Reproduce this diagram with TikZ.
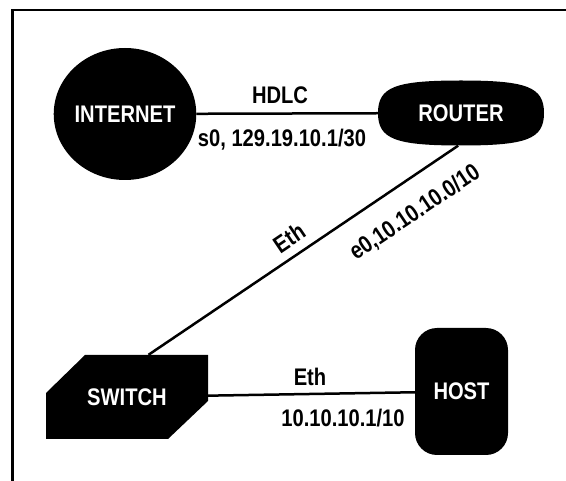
\documentclass[tikz,border=0pt]{standalone}
\usepackage{fontspec}
\newfontfamily\netfont[FakeStretch=0.84]{Liberation Sans}
\usetikzlibrary{shapes.geometric}

\tikzset{
    lbl/.style={font=\netfont\bfseries\fontsize{24}{26}\selectfont, inner sep=0pt},
    devlbl/.style={lbl, text=white},
    link/.style={line width=2.5pt},
}

\begin{document}
\begin{tikzpicture}[x=1pt, y=-1pt]
    \useasboundingbox (0,0) rectangle (566,481);
    % frame
    \draw[line width=2.5pt] (566,10) -- (12.5,10) -- (12.5,481);

    % internet
    \node[devlbl, ellipse, fill=black, minimum width=126pt, minimum height=132pt] (internet) at (125,114) {INTERNET};

    % router
    \begin{scope}[shift={(461,113)}]
        \fill (-83,0) .. controls (-83,-26) and (-66,-32.5) .. (0,-32.5)
              .. controls (66,-32.5) and (83,-26) .. (83,0)
              .. controls (83,26) and (66,32.5) .. (0,32.5)
              .. controls (-66,32.5) and (-83,26) .. (-83,0) -- cycle;
        \node[devlbl, minimum width=166pt, minimum height=65pt] (router) at (0,0) {ROUTER};
    \end{scope}

    % switch
    \begin{scope}[shift={(127,397)}]
        \fill (-42,-42) -- (81,-42) -- (81,4) -- (41,42) -- (-81,42) -- (-81,-4) -- cycle;
        \node[devlbl, minimum width=162pt, minimum height=84pt] (switch) at (0,0) {SWITCH};
    \end{scope}

    % host
    \node[devlbl, fill=black, rounded corners=22pt, minimum width=93pt, minimum height=127pt] (host) at (461.5,391.5) {HOST};

    % links
    \draw[link] (internet) -- (router);
    \draw[link] (switch.63) -- (router.-95);
    \draw[link] (switch) -- (host);

    % link labels
    \node[lbl] (hdlc) at (280,95) {HDLC};
    \node[lbl] (serial) at (282,140) {s0, 129.19.10.1/30};
    \node[lbl, rotate=34] (eth1) at (289,238) {Eth};
    \node[lbl, rotate=34] (ether) at (415,213) {e0,10.10.10.0/10};
    \node[lbl] (eth2) at (310,377) {Eth};
    \node[lbl] (hostip) at (343,418) {10.10.10.1/10};
\end{tikzpicture}
\end{document}
